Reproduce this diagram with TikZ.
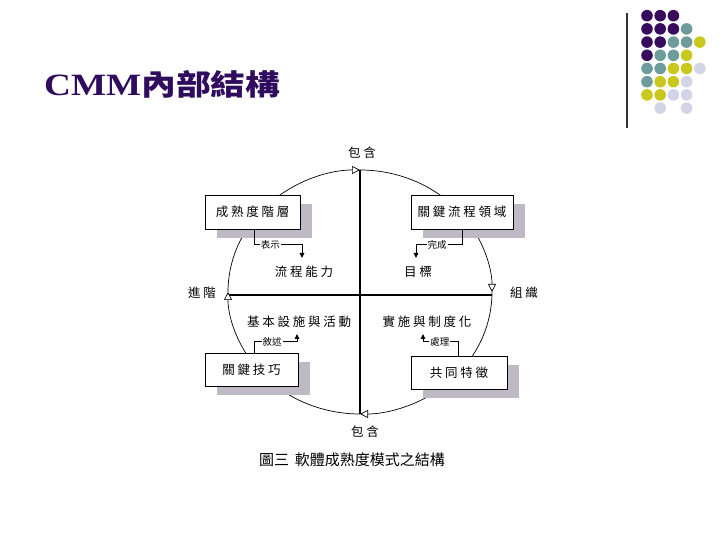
\documentclass[tikz,border=0pt]{standalone}
\usepackage{fontspec}
\setmainfont{Liberation Serif}
\newfontfamily\cjk{Noto Sans CJK TC}
\newfontfamily\cjkls{Noto Sans CJK TC}[LetterSpace=22]
\usetikzlibrary{arrows.meta,shadows}
\definecolor{titlecol}{RGB}{48,12,94}
\definecolor{dP}{RGB}{55,12,92}
\definecolor{dT}{RGB}{110,155,155}
\definecolor{dY}{RGB}{200,200,30}
\definecolor{dL}{RGB}{212,212,232}
\definecolor{shadowcol}{RGB}{190,185,196}
\tikzset{
  axisline/.style={line width=2.2pt, black},
  ring/.style={line width=0.7pt, black},
  ringarrow/.style={ring, -{Triangle[length=8pt,width=8pt,fill=white,line width=0.7pt]}},
  boxnode/.style={draw, line width=0.9pt, fill=white, inner sep=0pt,
    font=\cjkls\fontsize{12.5}{12.5}\selectfont,
    drop shadow={shadow xshift=12pt, shadow yshift=-9pt, opacity=1, fill=shadowcol, draw=none}},
  conn/.style={line width=1pt, black, -{Triangle[length=5pt,width=4.5pt]}},
  smalllbl/.style={fill=white, inner sep=1pt, font=\cjk\fontsize{9.5}{9.5}\selectfont},
  bigtxt/.style={inner sep=0pt, font=\cjkls\fontsize{12.5}{12.5}\selectfont},
}
\begin{document}
\begin{tikzpicture}[x=1pt,y=1pt]
\useasboundingbox (0,0) rectangle (720,540);
% title
\node[anchor=base west, inner sep=0pt, xscale=1.2, text=titlecol,
      font=\bfseries\fontsize{31}{31}\selectfont] (title) at (44,444)
      {CMM{\cjk\fontsize{29}{29}\selectfont 內部結構}};
% decoration dots
\draw[line width=1.3pt, black!80] (627,527) -- (627,412);
\foreach \c/\i/\j in {dP/0/0,dP/1/0,dP/2/0,
  dP/0/1,dP/1/1,dP/2/1,dT/3/1,
  dP/0/2,dP/1/2,dT/2/2,dT/3/2,dY/4/2,
  dP/0/3,dT/1/3,dT/2/3,dY/3/3,
  dT/0/4,dT/1/4,dY/2/4,dY/3/4,dL/4/4,
  dT/0/5,dY/1/5,dY/2/5,dL/3/5,
  dY/0/6,dY/1/6,dL/2/6,dL/3/6,
  dL/1/7,dL/3/7}
  \fill[\c] ({647+13.2*\i},{524.3-13.2*\j}) circle (5.8);
% diagram
\coordinate (C) at (360,248);
\coordinate (T) at (360,370);
\coordinate (B) at (360,126);
\coordinate (L) at (228,245);
\coordinate (R) at (492,245);
\draw[axisline] (T) -- (B);
\draw[axisline] (L) -- (R);
% ring arcs
\draw[ringarrow] (C) ++(130:132 and 122) arc[start angle=130,end angle=90,x radius=132,y radius=122];
\draw[ring] (C) ++(90:132 and 122) arc[start angle=90,end angle=50,x radius=132,y radius=122];
\draw[ringarrow] (C) ++(30:132 and 122) arc[start angle=30,end angle=0,x radius=132,y radius=122];
\draw[ring] (C) ++(0:132 and 122) arc[start angle=0,end angle=-34,x radius=132,y radius=122];
\draw[ringarrow] (C) ++(-58:132 and 122) arc[start angle=-58,end angle=-90,x radius=132,y radius=122];
\draw[ring] (C) ++(-90:132 and 122) arc[start angle=-90,end angle=-125,x radius=132,y radius=122];
\draw[ringarrow] (C) ++(212:132 and 122) arc[start angle=212,end angle=180,x radius=132,y radius=122];
\draw[ring] (C) ++(180:132 and 122) arc[start angle=180,end angle=150,x radius=132,y radius=122];
% boxes
\node[boxnode, minimum width=95pt, minimum height=34pt] (b1) at (252.5,328) {成熟度階層};
\node[boxnode, minimum width=102pt, minimum height=34pt] (b2) at (462,328) {關鍵流程領域};
\node[boxnode, minimum width=93pt, minimum height=33pt] (b3) at (251.5,170.5) {關鍵技巧};
\node[boxnode, minimum width=96pt, minimum height=33pt] (b4) at (459,167.5) {共同特徵};
% axis labels
\node[bigtxt] (top) at (362,387) {包含};
\node[bigtxt] (bot) at (365,108) {包含};
\node[bigtxt] (left) at (202,247) {進階};
\node[bigtxt] (right) at (524,247) {組織};
\node[bigtxt] (q1) at (304,268) {流程能力};
\node[bigtxt] (q2) at (418,268) {目標};
\node[bigtxt] (q3) at (299,218) {基本設施與活動};
\node[bigtxt] (q4) at (427,218) {實施與制度化};
% small connectors
\coordinate (e1) at (302,282);
\coordinate (e2) at (416,282);
\coordinate (e3) at (297,206);
\coordinate (e4) at (423,206);
\draw[conn] ([xshift=1.5pt]b1.south) |- node[smalllbl, pos=0.67] {表示} (e1 |- 0,295) -- (e1);
\draw[conn] (b2.south) |- node[smalllbl, pos=0.77] {完成} (e2 |- 0,295) -- (e2);
\draw[conn] ([xshift=2.5pt]b3.north) |- node[smalllbl, pos=0.71] {敘述} (e3 |- 0,198) -- (e3);
\draw[conn] ([xshift=-1pt]b4.north) |- node[smalllbl, pos=0.76] {處理} (e4 |- 0,198) -- (e4);
% caption
\node[inner sep=0pt, font=\cjk\fontsize{15}{15}\selectfont] (cap) at (352,80) {圖三\hspace{0.4em}軟體成熟度模式之結構};
\end{tikzpicture}
\end{document}
